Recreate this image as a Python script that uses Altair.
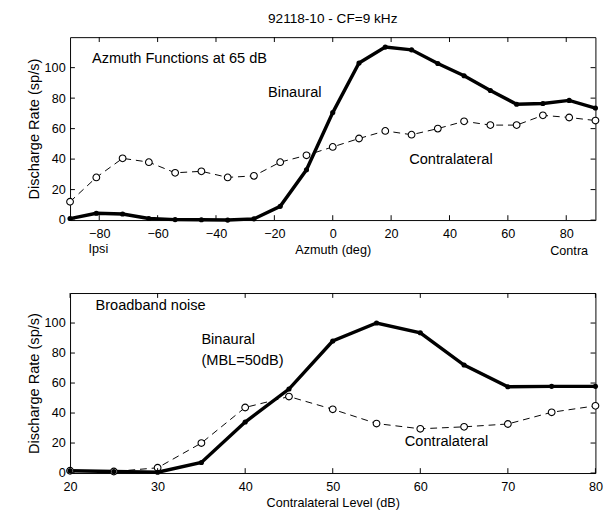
import altair as alt
import pandas as pd

# ---- data ----
az = [-90, -81, -72, -63, -54, -45, -36, -27, -18, -9, 0, 9, 18, 27, 36, 45, 54, 63, 72, 81, 90]
az_binaural = [1, 4.5, 4, 1, 0.3, 0.2, 0, 0.8, 9, 33, 70.5, 103, 113.5, 111.7, 102.7, 94.7, 85, 76, 76.5, 78.5, 73.5]
az_contra = [12, 28, 40.5, 38, 31, 32, 28, 29, 38, 42.5, 48, 53.5, 58.5, 56, 60, 64.8, 62.3, 62.3, 68.7, 67.3, 65.3]

lvl = [20, 25, 30, 35, 40, 45, 50, 55, 60, 65, 70, 75, 80]
lvl_binaural = [1.5, 1, 0.5, 7, 34, 56, 88, 100, 93.5, 72, 57.5, 57.8, 57.8]
lvl_contra = [1.5, 1, 3.5, 20, 43.7, 51, 42.5, 33, 29.5, 30.8, 32.7, 40.5, 44.8]

az_ticks = [-80, -60, -40, -20, 0, 20, 40, 60, 80]
lvl_ticks = [20, 30, 40, 50, 60, 70, 80]
rate_ticks = [0, 20, 40, 60, 80, 100]

FONT = "Liberation Sans"
W = 540
H1 = 188
H2 = 185
TL = 5  # inward tick length (px)


def panel(xs, bin_vals, con_vals, xdom, xticks, xtitle, height, annots):
    df = pd.DataFrame({"x": xs, "b": bin_vals, "c": con_vals})
    xsc = alt.Scale(domain=xdom, nice=False, zero=False)
    ysc = alt.Scale(domain=[0, 120], nice=False)
    xax = alt.Axis(values=xticks, title=xtitle, labelPadding=8, titlePadding=3, format="d",
                   labelOverlap=False, labelFlush=False)
    yax = alt.Axis(values=rate_ticks, title="Discharge Rate (sp/s)", labelPadding=5, titlePadding=3,
                   labelOverlap=False, labelFlush=False, format="d")

    def X(f):
        return alt.X(f, type="quantitative", scale=xsc, axis=xax)

    def Y(f):
        return alt.Y(f, type="quantitative", scale=ysc, axis=yax)

    base = alt.Chart(df)
    b_line = base.mark_line(color="black", strokeWidth=3.5, clip=False).encode(
        x=X("x"), y=Y("b")
    )
    b_pts = base.mark_point(filled=True, color="black", size=28, opacity=1).encode(
        x=X("x"), y=Y("b")
    )
    c_line = base.mark_line(color="black", strokeWidth=1, strokeDash=[7, 5]).encode(
        x=X("x"), y=Y("c")
    )
    c_pts = base.mark_point(
        shape="circle", filled=False, fill="white", fillOpacity=1, stroke="black",
        strokeWidth=1.1, size=48, opacity=1
    ).encode(x=X("x"), y=Y("c"))

    xt = alt.Chart(pd.DataFrame({"t": xticks}))
    yt = alt.Chart(pd.DataFrame({"t": rate_ticks}))
    tick_layers = [
        xt.mark_rule(color="black", strokeWidth=1).encode(
            x=X("t"), y=alt.value(height), y2=alt.value(height - TL)),
        xt.mark_rule(color="black", strokeWidth=1).encode(
            x=X("t"), y=alt.value(0), y2=alt.value(TL)),
        yt.mark_rule(color="black", strokeWidth=1).encode(
            y=Y("t"), x=alt.value(0), x2=alt.value(TL)),
        yt.mark_rule(color="black", strokeWidth=1).encode(
            y=Y("t"), x=alt.value(W), x2=alt.value(W - TL)),
    ]

    text_layers = []
    for txt, tx, ty, align, size in annots:
        text_layers.append(
            alt.Chart(pd.DataFrame({"x": [tx], "y": [ty], "t": [txt]})).mark_text(
                font=FONT, fontSize=size, color="black", align=align, baseline="middle"
            ).encode(x=X("x"), y=Y("y"), text="t:N")
        )

    return alt.layer(b_line, c_line, c_pts, b_pts, *tick_layers, *text_layers).properties(
        width=W, height=height
    )


top = panel(
    az, az_binaural, az_contra, [-90, 90], az_ticks, "Azmuth (deg)", H1,
    [
        ("Azmuth Functions at 65 dB", -82.5, 106.5, "left", 15),
        ("Binaural", -13, 84, "center", 15),
        ("Contralateral", 40.5, 40, "center", 15),
        ("Ipsi", -80.3, -19, "center", 13),
        ("Contra", 81, -20.5, "center", 13),
    ],
).properties(
    title=alt.Title("92118-10 - CF=9 kHz", frame="group", anchor="middle",
                    font=FONT, fontSize=14, fontWeight="normal", offset=11)
)

bottom = panel(
    lvl, lvl_binaural, lvl_contra, [20, 80], lvl_ticks, "Contralateral Level (dB)", H2,
    [
        ("Broadband noise", 22.9, 112, "left", 15),
        ("Binaural", 35, 89, "left", 15),
        ("(MBL=50dB)", 35, 75.5, "left", 15),
        ("Contralateral", 63, 21, "center", 15),
    ],
)

chart = alt.vconcat(top, bottom, spacing=34).properties(
    padding={"left": 26, "top": 5, "right": 8, "bottom": 0},
    background="white",
).configure_view(
    stroke="black", strokeWidth=1
).configure_axis(
    domain=False, ticks=False, grid=False, labelOverlap=False,
    labelFont=FONT, labelFontSize=13, labelColor="black",
    titleFont=FONT, titleFontSize=13, titleColor="black", titleFontWeight="normal",
).configure_axisLeft(
    titleFontSize=15
)

chart.save("out.html", embed_options={"renderer": "svg", "actions": False})
